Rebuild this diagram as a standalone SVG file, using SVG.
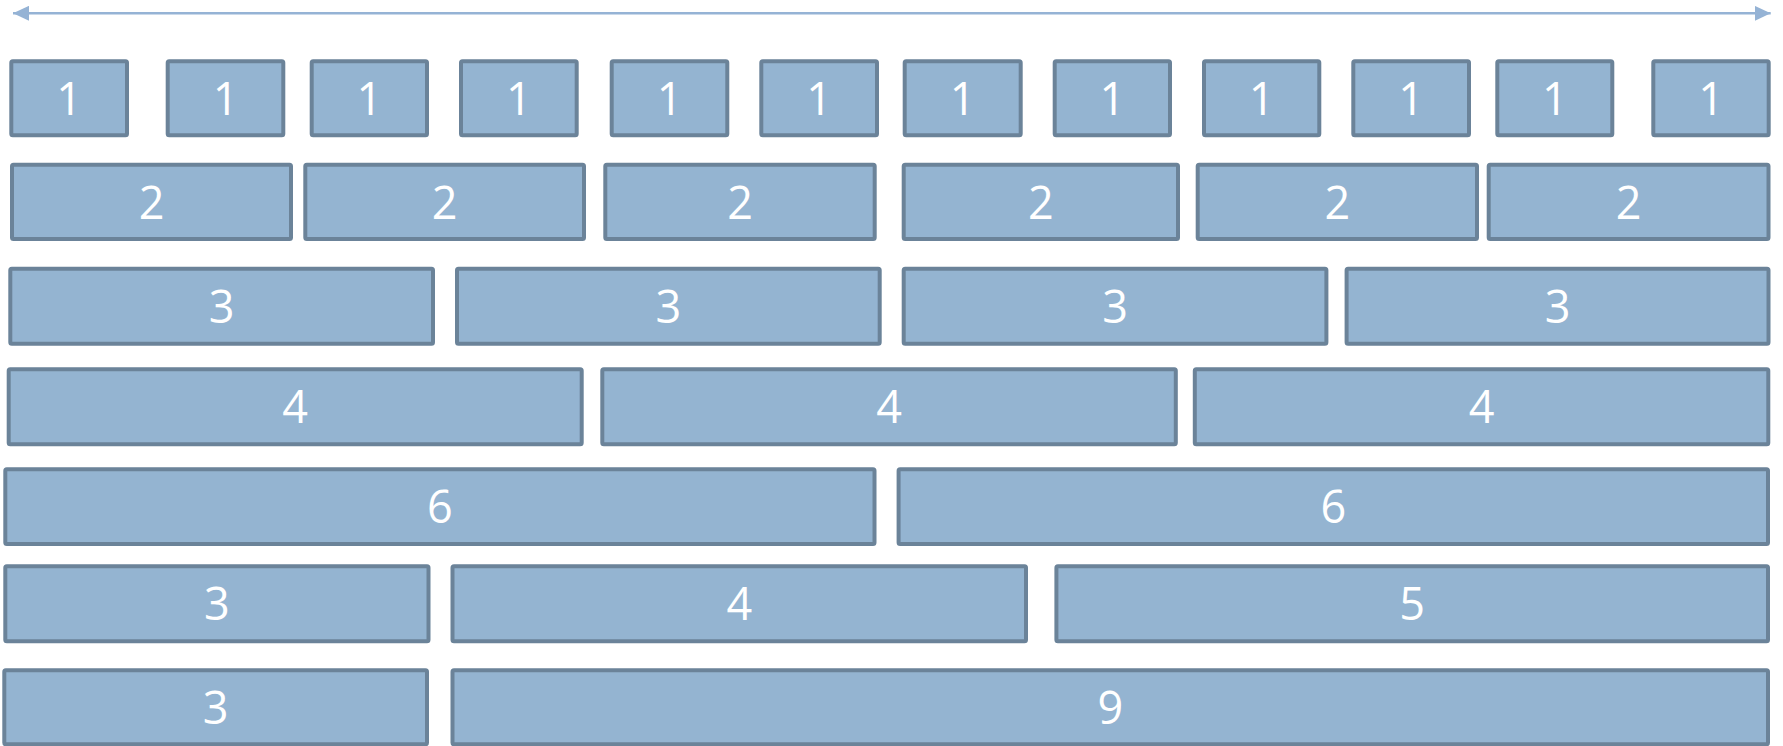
<svg xmlns="http://www.w3.org/2000/svg" width="1783" height="746" viewBox="0 0 1783 746">
<defs>
<style>
.b rect{fill:#94B4D1;stroke:#6B8399;stroke-width:4}
.b text{fill:#ffffff;font-family:"Open Sans","Noto Sans","DejaVu Sans",sans-serif;font-size:45px;text-anchor:middle}
</style>
<marker id="ah" viewBox="0 0 16 15" refX="16" refY="7.5" markerWidth="16" markerHeight="15" markerUnits="userSpaceOnUse" orient="auto-start-reverse">
<path d="M0,0 L16,7.5 L0,15 Z" fill="#95B3D5"/>
</marker>
</defs>
<rect width="1783" height="746" fill="#ffffff"/>
<g id="connectors">
<line x1="13" y1="13.3" x2="1770.7" y2="13.3" stroke="#95B3D5" stroke-width="2.5" marker-start="url(#ah)" marker-end="url(#ah)"/>
</g>
<g class="b">
<g id="r1n1"><rect x="11.3" y="61.3" width="115.7" height="74" rx="1.5"/><text x="69.2" y="115.3">1</text></g>
<g id="r1n2"><rect x="167.7" y="61.3" width="115.6" height="74" rx="1.5"/><text x="225.5" y="115.3">1</text></g>
<g id="r1n3"><rect x="311.7" y="61.3" width="115.3" height="74" rx="1.5"/><text x="369.3" y="115.3">1</text></g>
<g id="r1n4"><rect x="461" y="61.3" width="115.7" height="74" rx="1.5"/><text x="518.9" y="115.3">1</text></g>
<g id="r1n5"><rect x="611.7" y="61.3" width="115.6" height="74" rx="1.5"/><text x="669.5" y="115.3">1</text></g>
<g id="r1n6"><rect x="761.3" y="61.3" width="115.7" height="74" rx="1.5"/><text x="819.2" y="115.3">1</text></g>
<g id="r1n7"><rect x="904.7" y="61.3" width="116" height="74" rx="1.5"/><text x="962.7" y="115.3">1</text></g>
<g id="r1n8"><rect x="1054.7" y="61.3" width="115.3" height="74" rx="1.5"/><text x="1112.3" y="115.3">1</text></g>
<g id="r1n9"><rect x="1204" y="61.3" width="115.3" height="74" rx="1.5"/><text x="1261.7" y="115.3">1</text></g>
<g id="r1n10"><rect x="1353.3" y="61.3" width="115.7" height="74" rx="1.5"/><text x="1411.2" y="115.3">1</text></g>
<g id="r1n11"><rect x="1497.3" y="61.3" width="115" height="74" rx="1.5"/><text x="1554.8" y="115.3">1</text></g>
<g id="r1n12"><rect x="1653.3" y="61.3" width="115.4" height="74" rx="1.5"/><text x="1711" y="115.3">1</text></g>

<g id="r2n1"><rect x="12" y="164.7" width="279" height="74.3" rx="1.5"/><text x="151.5" y="218.7">2</text></g>
<g id="r2n2"><rect x="305.3" y="164.7" width="278.7" height="74.3" rx="1.5"/><text x="444.7" y="218.7">2</text></g>
<g id="r2n3"><rect x="605.3" y="164.7" width="269.4" height="74.3" rx="1.5"/><text x="740" y="218.7">2</text></g>
<g id="r2n4"><rect x="903.7" y="164.7" width="274.3" height="74.3" rx="1.5"/><text x="1040.9" y="218.7">2</text></g>
<g id="r2n5"><rect x="1197.7" y="164.7" width="279.3" height="74.3" rx="1.5"/><text x="1337.4" y="218.7">2</text></g>
<g id="r2n6"><rect x="1488.7" y="164.7" width="279.8" height="74.3" rx="1.5"/><text x="1628.6" y="218.7">2</text></g>

<g id="r3n1"><rect x="10.3" y="268.7" width="422.7" height="75" rx="1.5"/><text x="221.7" y="322.7">3</text></g>
<g id="r3n2"><rect x="457" y="268.7" width="422.7" height="75" rx="1.5"/><text x="668.4" y="322.7">3</text></g>
<g id="r3n3"><rect x="903.7" y="268.7" width="422.7" height="75" rx="1.5"/><text x="1115.1" y="322.7">3</text></g>
<g id="r3n4"><rect x="1346.6" y="268.7" width="421.9" height="75" rx="1.5"/><text x="1557.6" y="322.7">3</text></g>

<g id="r4n1"><rect x="8.7" y="369.3" width="573" height="75" rx="1.5"/><text x="295.2" y="423.3">4</text></g>
<g id="r4n2"><rect x="602.3" y="369.3" width="573.5" height="75" rx="1.5"/><text x="889.1" y="423.3">4</text></g>
<g id="r4n3"><rect x="1194.8" y="369.3" width="573.5" height="75" rx="1.5"/><text x="1481.6" y="423.3">4</text></g>

<g id="r5n1"><rect x="5.3" y="469.3" width="869.2" height="74.7" rx="1.5"/><text x="439.9" y="523.3">6</text></g>
<g id="r5n2"><rect x="898.6" y="469.3" width="869.4" height="74.7" rx="1.5"/><text x="1333.3" y="523.3">6</text></g>

<g id="r6n1"><rect x="5.3" y="566.3" width="423.2" height="75" rx="1.5"/><text x="216.9" y="620.3">3</text></g>
<g id="r6n2"><rect x="452.5" y="566.3" width="573.5" height="75" rx="1.5"/><text x="739.3" y="620.3">4</text></g>
<g id="r6n3"><rect x="1056.4" y="566.3" width="711.6" height="75" rx="1.5"/><text x="1412.2" y="620.3">5</text></g>

<g id="r7n1"><rect x="4.3" y="670.3" width="422.7" height="74" rx="1.5"/><text x="215.7" y="724.3">3</text></g>
<g id="r7n2"><rect x="452.5" y="670.3" width="1315.5" height="74" rx="1.5"/><text x="1110.3" y="724.3">9</text></g>
</g>
</svg>
